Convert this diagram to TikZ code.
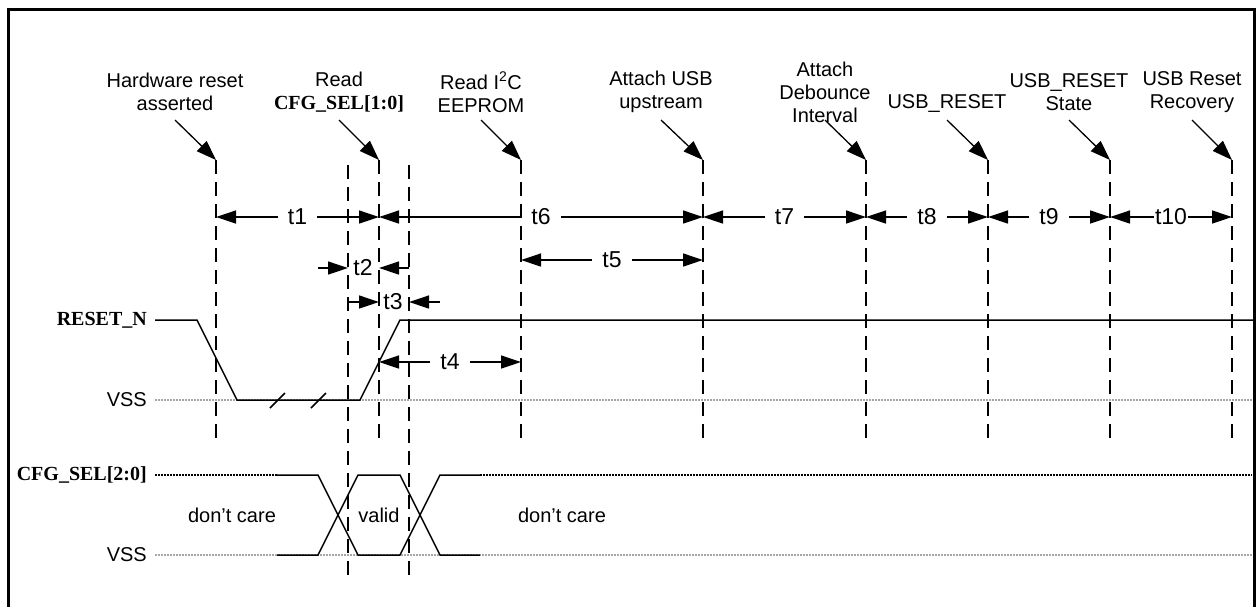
\documentclass[tikz,border=0pt]{standalone}
\usepackage{fontspec}
\setmainfont{Liberation Sans}
\newfontfamily\sigfont{Liberation Serif}
\usetikzlibrary{arrows.meta, positioning}

\tikzset{
  evt/.style={align=center, inner sep=0pt, font=\fontsize{20}{23}\selectfont},
  sig/.style={anchor=east, inner sep=0pt, font=\fontsize{20}{23}\selectfont\sigfont\bfseries},
  lvltxt/.style={anchor=east, inner sep=0pt, font=\fontsize{20}{23}\selectfont},
  tlbl/.style={fill=white, inner sep=10pt, font=\fontsize{23}{25}\selectfont},
  evline/.style={line width=2.9pt, dash pattern=on 14pt off 8pt},
  callout/.style={-{Triangle[length=20pt,width=14pt]}, line width=1.3pt},
  tarr/.style={line width=1.3pt},
  wave/.style={line width=1.5pt},
  lvl/.style={gray!70, line width=2.4pt, dash pattern=on 2pt off 1pt},
  bus/.style={black, line width=2pt, dash pattern=on 2pt off 1pt}
}

\begin{document}
\begin{tikzpicture}[x=1pt, y=-1pt, >={Triangle[length=20pt,width=13pt]}]
  \useasboundingbox (0,0) rectangle (1259,606);
  \draw[line width=3pt] (8,9) rectangle (1254,640);

  % event lines
  \foreach \n/\x in {1/216,3/379,5/521,6/703,7/866,8/988,9/1110,10/1232} {
    \coordinate (v\n t) at (\x,160);
    \coordinate (v\n b) at (\x,440);
  }
  \coordinate (v2t) at (348,165); \coordinate (v2b) at (348,580);
  \coordinate (v4t) at (409,165); \coordinate (v4b) at (409,580);

  % rows
  \coordinate (ay) at (0,120);
  \coordinate (r1) at (0,217);
  \coordinate (r2) at (0,260);
  \coordinate (r3) at (0,268);
  \coordinate (r4) at (0,302);
  \coordinate (r5) at (0,362);
  \coordinate (rend) at (1252,0);

  % event labels
  \node[evt] (hw) at (175,92)  {Hardware reset\\asserted};
  \node[evt] (rc) at (339,92)  {Read\\{\sigfont\bfseries CFG\_SEL[1:0]}};
  \node[evt] (ri) at (481,92)  {Read I\textsuperscript{2}C\\EEPROM};
  \node[evt] (au) at (661,92)  {Attach USB\\upstream};
  \node[evt] (ad) at (825,92)  {Attach\\Debounce\\Interval};
  \node[evt] (ur) at (947,103) {USB\_RESET};
  \node[evt] (us) at (1069,92) {USB\_RESET\\State};
  \node[evt] (rr) at (1192,92) {USB Reset\\Recovery};

  \foreach \a/\b in {hw/1, rc/3, ri/5, au/6, ad/7, ur/8, us/9, rr/10}
    \draw[callout] (\a |- ay) -- (v\b t);

  % timing
  \draw[tarr, <->] (v1t |- r1) -- node[tlbl] (l1) {t1} (v3t |- r1);
  \draw[tarr, <->] (v3t |- r1) -- node[tlbl] (l6) {t6} (v6t |- r1);
  \draw[tarr, <->] (v6t |- r1) -- node[tlbl] (l7) {t7} (v7t |- r1);
  \draw[tarr, <->] (v7t |- r1) -- node[tlbl] (l8) {t8} (v8t |- r1);
  \draw[tarr, <->] (v8t |- r1) -- node[tlbl] (l9) {t9} (v9t |- r1);
  \draw[tarr, <->] (v9t |- r1) -- node[tlbl, inner sep=1pt] (l10) {t10} (v10t |- r1);
  \draw[tarr, <->] (v5t |- r2) -- node[tlbl] (l5) {t5} (v6t |- r2);
  \draw[tarr, <->] (v3t |- r5) -- node[tlbl] (l4) {t4} (v5t |- r5);

  \coordinate (t2a) at (318,268);
  \draw[tarr, ->] (t2a) -- (v2t |- r3);
  \node[tlbl, fill=none, inner sep=0pt] (l2) at (363,268) {t2};
  \draw[tarr, ->] (v4t |- r3) -- (v3t |- r3);

  \coordinate (t3a) at (440,302);
  \draw[tarr, ->] (v2t |- r4) -- (v3t |- r4);
  \node[tlbl, fill=none, inner sep=0pt] (l3) at (393,302) {t3};
  \draw[tarr, ->] (t3a) -- (v4t |- r4);

  % signals
  \node[sig] (rstn) at (147,320) {RESET\_N};
  \node[lvltxt] (vss1) at (147,400) {VSS};
  \node[sig] (cfg) at (147,475) {CFG\_SEL[2:0]};
  \node[lvltxt] (vss2) at (147,555) {VSS};

  \draw[lvl] ([xshift=8pt]vss1.east) -- (rend |- vss1);
  \draw[lvl] ([xshift=8pt]vss2.east) -- (rend |- vss2);

  % RESET_N
  \draw[wave] ([xshift=8pt]rstn.east) -- (197,320) -- (237,400) -- (360,400)
    -- (400,320) -- (1254,320);
  \draw[wave] (270,408) -- (285,393) (311,408) -- (326,393);

  % CFG_SEL
  \draw[bus] ([xshift=8pt]cfg.east) -- (277,475);
  \draw[bus] (480,475) -- (rend |- cfg);
  \draw[wave] (277,475) -- (318,475) -- (358,555) -- (400,555) -- (440,475) -- (480,475);
  \draw[wave] (277,555) -- (318,555) -- (358,475) -- (400,475) -- (440,555) -- (480,555);

  \node[evt] (dc1) at (232,515) {don't care};
  \node[evt] (vd)  at (379,515) {valid};
  \node[evt] (dc2) at (562,515) {don't care};

  % dashed lines on top
  \foreach \n in {1,...,10}
    \draw[evline] (v\n t) -- (v\n b);
\end{tikzpicture}
\end{document}
